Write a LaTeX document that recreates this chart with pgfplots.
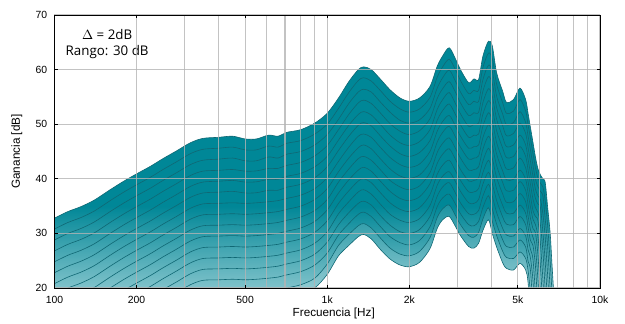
\documentclass[border=0pt]{standalone}
\usepackage{pgfplots}
\pgfplotsset{compat=1.18}
\usepackage{pgfplotstable}
\usepgfplotslibrary{fillbetween}
\usetikzlibrary{fadings}
\usepackage{fontspec}
\setmainfont{Liberation Sans}
\newfontfamily\annfont{Open Sans}
\definecolor{tealfill}{RGB}{0,135,151}
\definecolor{tealline}{RGB}{16,104,116}
\definecolor{gridc}{RGB}{180,180,180}
\tikzfading[name=fadeup, bottom color=transparent!0, top color=transparent!100]

\pgfplotstableread{
f c0 c1 c2 c3 c4 c5 c6 c7 c8 c9 c10 c11 c12 c13 c14 c15
100 32.8 30.8 28.8 26.8 24.8 22.8 20.8 18.8 16.8 14.8 12.8 10.8 8.8 6.8 4.8 2.8
112 34.0 32.0 30.0 28.0 26.0 24.0 22.0 20.0 18.0 16.0 14.0 12.0 10.0 8.0 6.0 4.0
125 34.9 32.9 30.9 28.9 26.9 24.9 22.9 20.9 18.9 16.9 14.9 12.9 10.9 8.9 6.9 4.9
140 36.1 34.1 32.1 30.1 28.1 26.1 24.1 22.1 20.1 18.1 16.1 14.1 12.1 10.1 8.1 6.1
160 38.0 36.0 34.0 32.0 30.0 28.0 26.0 24.0 22.0 20.0 18.0 16.0 14.0 12.0 10.0 8.0
180 39.6 37.6 35.6 33.6 31.6 29.6 27.6 25.6 23.6 21.6 19.6 17.6 15.6 13.6 11.6 9.6
200 40.9 38.9 36.9 34.9 32.9 30.9 28.9 26.9 24.9 22.9 20.9 18.9 16.9 14.9 12.9 10.9
225 42.3 40.3 38.3 36.3 34.3 32.3 30.3 28.3 26.3 24.3 22.3 20.3 18.3 16.3 14.3 12.3
250 43.7 41.7 39.7 37.7 35.7 33.7 31.7 29.7 27.7 25.7 23.7 21.7 19.7 17.7 15.7 13.7
280 45.1 43.1 41.1 39.1 37.1 35.1 33.1 31.1 29.1 27.1 25.1 23.1 21.1 19.1 17.1 15.1
315 46.6 44.6 42.6 40.6 38.6 36.6 34.6 32.6 30.6 28.6 26.6 24.6 22.6 20.6 18.6 16.6
350 47.4 45.4 43.4 41.4 39.4 37.4 35.4 33.4 31.4 29.4 27.4 25.4 23.4 21.4 19.0 17.2
400 47.6 45.6 43.6 41.55 39.55 37.55 35.5 33.5 31.5 29.5 27.5 25.5 23.5 21.5 19.1 17.3
450 47.8 45.8 43.8 41.7 39.7 37.7 35.6 33.6 31.6 29.6 27.6 25.6 23.6 21.6 19.2 17.4
500 47.3 45.3 43.3 41.4 39.4 37.4 35.5 33.5 31.5 29.5 27.5 25.5 23.5 21.5 19.1 17.3
550 47.3 45.3 43.3 41.45 39.45 37.45 35.6 33.6 31.6 29.6 27.6 25.6 23.6 21.6 19.2 17.4
610 48.0 46.0 44.0 41.9 39.9 37.9 35.8 33.8 31.8 29.8 27.8 25.8 23.8 21.8 19.4 17.6
660 47.8 45.8 43.8 41.9 39.9 37.9 36.0 34.0 32.0 30.0 28.0 26.0 24.0 22.0 19.6 17.8
710 48.5 46.5 44.5 42.45 40.45 38.45 36.4 34.4 32.4 30.4 28.4 26.4 24.4 22.4 20.0 18.2
800 49.0 47.0 45.0 43.0 41.0 39.0 37.0 35.0 33.0 31.0 29.0 27.0 25.0 23.0 20.6 18.8
900 50.2 48.2 46.2 44.2 42.2 40.2 38.2 36.2 34.2 32.2 30.2 28.2 26.2 24.2 21.8 20.0
1000 52.0 50.0 48.1 46.1 44.1 42.2 40.2 38.2 36.2 34.3 32.3 30.3 28.4 26.4 24.4 22.5
1100 54.8 52.9 50.9 49.0 47.1 45.2 43.2 41.3 39.4 37.4 35.5 33.6 31.6 29.7 27.8 25.9
1200 57.8 55.8 53.8 51.8 49.8 47.8 45.8 43.8 41.8 39.8 37.8 35.8 33.8 31.8 29.8 27.8
1300 60.0 58.0 55.9 53.9 51.8 49.8 47.8 45.7 43.7 41.6 39.6 37.6 35.5 33.5 31.4 29.4
1360 60.5 58.5 56.4 54.4 52.3 50.3 48.2 46.2 44.1 42.1 40.0 38.0 35.9 33.9 31.8 29.8
1450 60.0 57.9 55.9 53.8 51.7 49.7 47.6 45.5 43.4 41.4 39.3 37.2 35.2 33.1 31.0 29.0
1570 58.2 56.1 54.0 52.0 49.9 47.8 45.7 43.6 41.6 39.5 37.4 35.3 33.2 31.2 29.1 27.0
1700 56.3 54.2 52.2 50.1 48.0 46.0 43.9 41.8 39.7 37.7 35.6 33.5 31.5 29.4 27.3 25.3
1850 54.8 52.8 50.7 48.7 46.6 44.6 42.6 40.5 38.5 36.4 34.4 32.4 30.3 28.3 26.2 24.2
2000 54.2 52.2 50.2 48.1 46.1 44.1 42.1 40.1 38.0 36.0 34.0 32.0 30.0 27.9 25.9 23.9
2180 54.8 52.8 50.8 48.8 46.8 44.8 42.7 40.7 38.7 36.7 34.7 32.7 30.7 28.7 26.7 24.7
2380 56.9 54.9 52.9 51.0 49.0 47.0 45.0 43.0 41.1 39.1 37.1 35.1 33.1 31.2 29.2 27.2
2530 60.6 58.6 56.6 54.7 52.7 50.7 48.7 46.7 44.8 42.8 40.8 38.8 36.8 34.9 32.9 30.9
2650 62.5 60.5 58.5 56.5 54.5 52.5 50.5 48.5 46.5 44.5 42.5 40.5 38.5 36.5 34.5 32.5
2800 64.0 61.9 59.9 57.8 55.8 53.7 51.6 49.6 47.5 45.5 43.4 41.3 39.3 37.2 35.2 33.1
2950 62.0 60.0 57.9 55.9 53.8 51.8 49.7 47.7 45.6 43.6 41.5 39.5 37.4 35.4 33.3 31.3
3080 60.0 58.0 55.9 53.9 51.9 49.9 47.8 45.8 43.8 41.7 39.7 37.7 35.6 33.6 31.6 29.6
3300 57.6 55.6 53.6 51.6 49.6 47.6 45.6 43.6 41.6 39.6 37.6 35.6 33.6 31.6 29.6 27.6
3450 58.3 56.2 54.2 52.1 50.0 48.0 45.9 43.8 41.7 39.7 37.6 35.5 33.5 31.4 29.3 27.3
3590 58.2 56.2 54.2 52.2 50.2 48.2 46.2 44.2 42.2 40.2 38.2 36.2 34.2 32.2 30.2 28.2
3720 62.4 60.3 58.1 56.0 53.9 51.8 49.6 47.5 45.4 43.2 41.1 39.0 36.8 34.7 32.6 30.5
3900 65.2 63.0 60.8 58.7 56.5 54.3 52.1 49.9 47.8 45.6 43.4 41.2 39.0 36.9 34.7 32.5
4030 64.3 62.0 59.7 57.4 55.1 52.9 50.6 48.3 46.0 43.7 41.4 39.1 36.8 34.5 32.2 30.0
4180 59.4 57.3 55.1 53.0 50.9 48.8 46.6 44.5 42.4 40.2 38.1 36.0 33.8 31.7 29.6 27.5
4400 56.0 53.9 51.8 49.7 47.6 45.6 43.5 41.4 39.3 37.2 35.1 33.0 30.9 28.8 26.7 24.6
4540 54.0 52.0 49.9 47.9 45.9 43.9 41.8 39.8 37.8 35.7 33.7 31.7 29.7 27.6 25.6 23.6
4820 54.5 52.4 50.3 48.3 46.2 44.1 42.0 39.9 37.9 35.8 33.7 31.6 29.5 27.5 25.4 23.3
5090 56.6 54.5 52.3 50.2 48.0 45.9 43.8 41.6 39.5 37.3 35.2 33.1 30.9 28.8 26.6 24.5
5340 54.5 52.4 50.3 48.3 46.2 44.1 42.0 39.9 37.9 35.8 33.7 31.6 29.5 27.5 25.4 23.3
5450 52.0 49.9 47.8 45.7 43.6 41.6 39.5 37.4 35.3 33.2 31.2 29.1 27.0 24.9 23.2 21.0
5560 49.4 47.4 45.3 43.2 41.1 39.0 36.9 34.9 32.8 30.7 28.7 27.1 25.5 23.3 18.9 14.0
5680 46.7 44.6 42.5 40.5 38.4 36.3 34.2 32.6 30.9 29.3 27.8 25.3 21.4 16.3 10 10
5800 44.0 42.0 39.9 38.1 36.4 34.7 33.1 31.6 30.1 27.4 24.0 18.9 13.8 10 10 10
5920 41.9 40.2 38.6 36.9 35.4 33.9 32.4 29.5 26.2 21.7 16.5 11.4 10 10 10 10
6050 40.7 39.2 37.7 36.2 34.7 31.5 28.1 24.0 18.9 13.7 10 10 10 10 10 10
6180 40.0 38.5 36.8 33.5 30.1 26.6 21.4 16.2 11.0 10 10 10 10 10 10 10
6300 39.3 35.9 32.6 29.2 24.7 19.5 14.3 10 10 10 10 10 10 10 10 10
6430 34.8 31.4 27.5 22.3 17.1 12.0 10 10 10 10 10 10 10 10 10 10
6570 30.0 24.8 19.6 14.4 10 10 10 10 10 10 10 10 10 10 10 10
6660 24.9 19.8 14.6 10 10 10 10 10 10 10 10 10 10 10 10 10
6750 20.0 14.8 10 10 10 10 10 10 10 10 10 10 10 10 10 10
6850 14.6 10 10 10 10 10 10 10 10 10 10 10 10 10 10 10
6950 10 10 10 10 10 10 10 10 10 10 10 10 10 10 10 10
}\gain

\begin{document}
\begin{tikzpicture}
\begin{axis}[
  scale only axis, width=409.1pt, height=204.75pt,
  xmode=log, xmin=100, xmax=10000, ymin=20, ymax=70,
  xtick={100,200,500,1000,2000,5000,10000},
  xticklabels={100,200,500,1k,2k,5k,10k},
  minor xtick={300,400,600,700,800,900,3000,4000,6000,7000,8000,9000},
  ytick={20,30,40,50,60,70},
  xmajorgrids, xminorgrids, ymajorgrids,
  major grid style={draw=gridc, draw opacity=0.8, line width=0.8pt},
  minor grid style={draw=gridc, draw opacity=0.8, line width=0.8pt},
  minor tick length=0pt, major tick length=2.5pt,
  axis on top,
  axis line style={black, line width=0.7pt},
  tick style={black, line width=0.6pt},
  tick label style={font=\fontsize{7.8}{9}\selectfont},
  xticklabel style={yshift=-2.3pt},
  yticklabel style={xshift=-2.0pt},
  /pgf/number format/assume math mode=true,
  xlabel={Frecuencia [Hz]}, ylabel={Ganancia [dB]},
  label style={font=\fontsize{8.8}{10}\selectfont},
  xlabel style={at={(axis description cs:0.512,-0.094)}, anchor=center},
  ylabel style={at={(axis description cs:-0.069,0.5)}, anchor=center},
]
\addplot[name path=c0, draw=none, smooth, forget plot] table[x=f,y=c0]{\gain};
\addplot[name path=c14, draw=none, smooth, forget plot] table[x=f,y=c14]{\gain};
\addplot[name path=c15, draw=none, smooth, forget plot] table[x=f,y=c15]{\gain};
\addplot[tealfill, draw=none] fill between[of=c0 and c15];
\fill[white, fill opacity=0.5, path fading=fadeup] (axis cs:100,20) rectangle (axis cs:10000,35);
\addplot[white, fill opacity=0.12, draw=none] fill between[of=c14 and c15];
\pgfplotsinvokeforeach{0,...,15}{
  \addplot[tealline, line width=0.45pt, smooth] table[x=f,y=c#1]{\gain};
}
\node[font=\annfont\fontsize{10}{12}\selectfont, align=center] at (axis cs:156,64.6) {$\Delta$ = 2dB\\Rango: 30 dB};
\end{axis}
\path (current axis.south west) ++(-40.875pt,-24pt) rectangle ++(468.75pt,240pt);
\end{tikzpicture}
\end{document}
